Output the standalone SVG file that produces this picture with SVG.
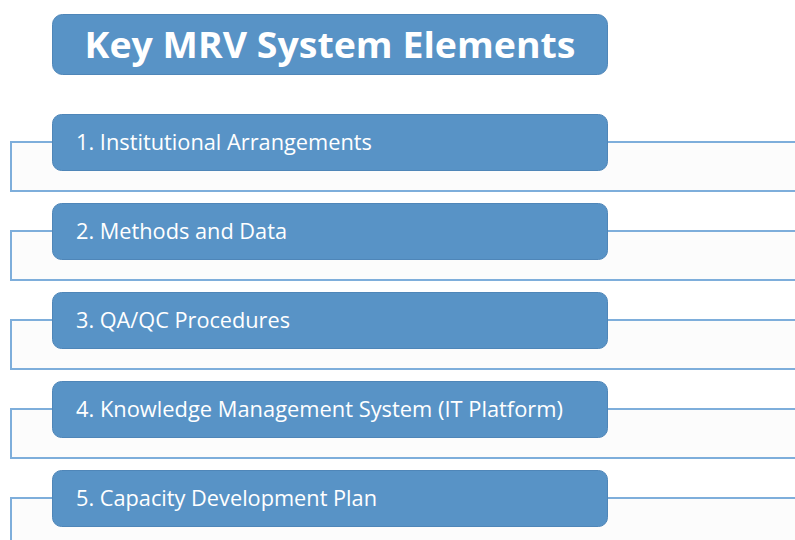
<svg xmlns="http://www.w3.org/2000/svg" width="795" height="540" viewBox="0 0 795 540">
<style>
.box{fill:#5893c6;stroke:#4f86b8;stroke-width:1}
.bg{fill:#fcfcfc;stroke:none}
.ln{fill:none;stroke:#7eaedb;stroke-width:2}
.t{fill:#ffffff;font-family:"Open Sans","Noto Sans",sans-serif;font-size:21px}
.title{fill:#ffffff;font-family:"Open Sans","Noto Sans",sans-serif;font-size:36px;font-weight:bold}
</style>
<rect width="795" height="540" fill="#ffffff"/>
<g id="connectors">
<rect class="bg" x="11" y="142" width="784" height="49"/>
<rect class="bg" x="11" y="231" width="784" height="49"/>
<rect class="bg" x="11" y="320" width="784" height="49"/>
<rect class="bg" x="11" y="409" width="784" height="49"/>
<rect class="bg" x="11" y="498" width="784" height="42"/>
<path class="ln" d="M52 142H11V191H795M608 142H795"/>
<path class="ln" d="M52 231H11V280H795M608 231H795"/>
<path class="ln" d="M52 320H11V369H795M608 320H795"/>
<path class="ln" d="M52 409H11V458H795M608 409H795"/>
<path class="ln" d="M52 498H11V540M608 498H795"/>
</g>
<g id="title">
<rect class="box" x="52.5" y="14.5" width="555" height="60" rx="10"/>
<text class="title" x="330" y="58" text-anchor="middle" textLength="491" lengthAdjust="spacingAndGlyphs">Key MRV System Elements</text>
</g>
<g id="item1">
<rect class="box" x="52.5" y="114.5" width="555" height="56" rx="9"/>
<text class="t" x="76" y="149.5" textLength="296" lengthAdjust="spacingAndGlyphs">1. Institutional Arrangements</text>
</g>
<g id="item2">
<rect class="box" x="52.5" y="203.5" width="555" height="56" rx="9"/>
<text class="t" x="76" y="238.5" textLength="211" lengthAdjust="spacingAndGlyphs">2. Methods and Data</text>
</g>
<g id="item3">
<rect class="box" x="52.5" y="292.5" width="555" height="56" rx="9"/>
<text class="t" x="76" y="327.5" textLength="214" lengthAdjust="spacingAndGlyphs">3. QA/QC Procedures</text>
</g>
<g id="item4">
<rect class="box" x="52.5" y="381.5" width="555" height="56" rx="9"/>
<text class="t" x="76" y="416.5" textLength="487" lengthAdjust="spacingAndGlyphs">4. Knowledge Management System (IT Platform)</text>
</g>
<g id="item5">
<rect class="box" x="52.5" y="470.5" width="555" height="56" rx="9"/>
<text class="t" x="76" y="505.5" textLength="301" lengthAdjust="spacingAndGlyphs">5. Capacity Development Plan</text>
</g>
</svg>
